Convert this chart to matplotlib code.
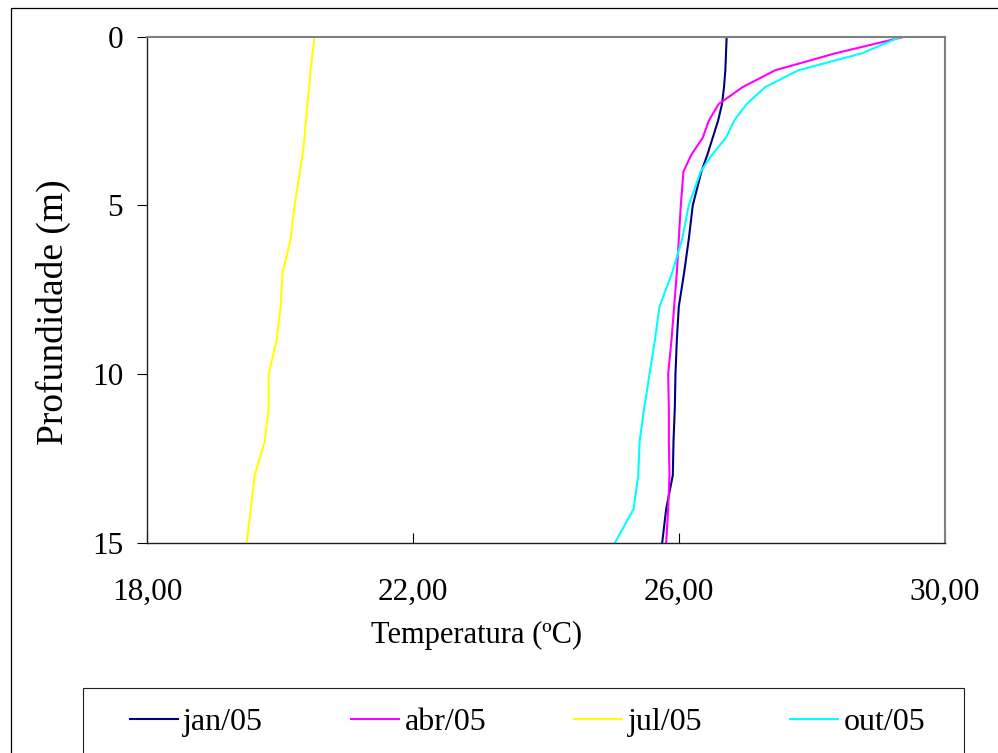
import matplotlib
matplotlib.use("Agg")
from matplotlib import pyplot as plt
from matplotlib.patches import Rectangle

# Perfis de temperatura por profundidade
profundidade = [0, 0.5, 1, 1.5, 2, 2.5, 3, 3.5, 4, 5, 6, 7, 8, 9, 10, 11, 12, 13, 14, 15]
jan05 = [26.72, 26.71, 26.70, 26.68, 26.65, 26.59, 26.51, 26.43, 26.34, 26.21,
         26.15, 26.08, 26.00, 25.97, 25.95, 25.94, 25.92, 25.91, 25.81, 25.75]
abr05 = [29.41, 28.35, 27.45, 26.96, 26.60, 26.45, 26.36, 26.19, 26.07, 26.03,
         26.00, 25.97, 25.93, 25.89, 25.84, 25.85, 25.85, 25.86, 25.84, 25.81]
jul05 = [20.52, 20.49, 20.46, 20.44, 20.41, 20.39, 20.37, 20.34, 20.30, 20.22,
         20.16, 20.04, 20.01, 19.95, 19.83, 19.83, 19.77, 19.62, 19.56, 19.50]
out05 = [29.35, 28.75, 27.80, 27.30, 27.02, 26.83, 26.71, 26.50, 26.33, 26.15,
         26.05, 25.90, 25.71, 25.64, 25.56, 25.48, 25.41, 25.39, 25.32, 25.04]

series = [("jan/05", jan05, "#000080"), ("abr/05", abr05, "#FF00FF"),
          ("jul/05", jul05, "#FFFF00"), ("out/05", out05, "#00FFFF")]

xticks = [18, 22, 26, 30]
xticklabels = ["18,00", "22,00", "26,00", "30,00"]
yticks = [0, 5, 10, 15]

plt.rcParams['font.family'] = ['Liberation Serif', 'DejaVu Serif']

fig = plt.figure(figsize=(9.98, 7.53), dpi=100)
ax = fig.add_axes([0.1473, 0.2793, 0.7993, 0.6722])

for nome, valores, cor in series:
    ax.plot(valores, profundidade, color=cor, lw=1.5, label=nome)

ax.set_xlim(18, 30)
ax.set_ylim(15, 0)
ax.set_xticks(xticks)
ax.set_xticklabels(xticklabels)
ax.set_yticks(yticks)
ax.tick_params(axis='x', direction='in', length=7.2, width=0.8, pad=25, labelsize=22.5, colors='black')
ax.tick_params(axis='y', direction='out', length=7.2, width=0.8, pad=10, labelsize=22.5, colors='black')

for lado in ['top', 'right']:
    ax.spines[lado].set_color('#808080')
    ax.spines[lado].set_linewidth(1.5)
for lado in ['left', 'bottom']:
    ax.spines[lado].set_color('#202020')
    ax.spines[lado].set_linewidth(1.0)

ax.set_xlabel("Temperatura (ºC)", fontsize=22)
ax.xaxis.set_label_coords(0.4137, -0.184)
ax.xaxis.label.set_va('center')
ax.set_ylabel("Profundidade (m)", fontsize=27)
ax.yaxis.set_label_coords(-0.118, 0.4557)
ax.yaxis.label.set_va('center')

# Legenda sem moldura, moldura desenhada a parte
fig.legend(loc='center left', bbox_to_anchor=(130 / 998, 1 - 722 / 753), ncol=4,
           frameon=False, fontsize=23, borderpad=0, borderaxespad=0,
           handlelength=1.5, handletextpad=0.17, columnspacing=2.75)
fig.patches.append(Rectangle((83 / 998, -0.05), 0.883, 0.05 + 1 - 688.3 / 753,
                             transform=fig.transFigure, fill=False, lw=0.8,
                             edgecolor='#202020', clip_on=False))
# Moldura externa
fig.patches.append(Rectangle((10.5 / 998, -0.05), 1.0, 0.05 + 1 - 8 / 753,
                             transform=fig.transFigure, fill=False, lw=0.9,
                             edgecolor='black', clip_on=False))

fig.savefig("out.png", dpi=100)
